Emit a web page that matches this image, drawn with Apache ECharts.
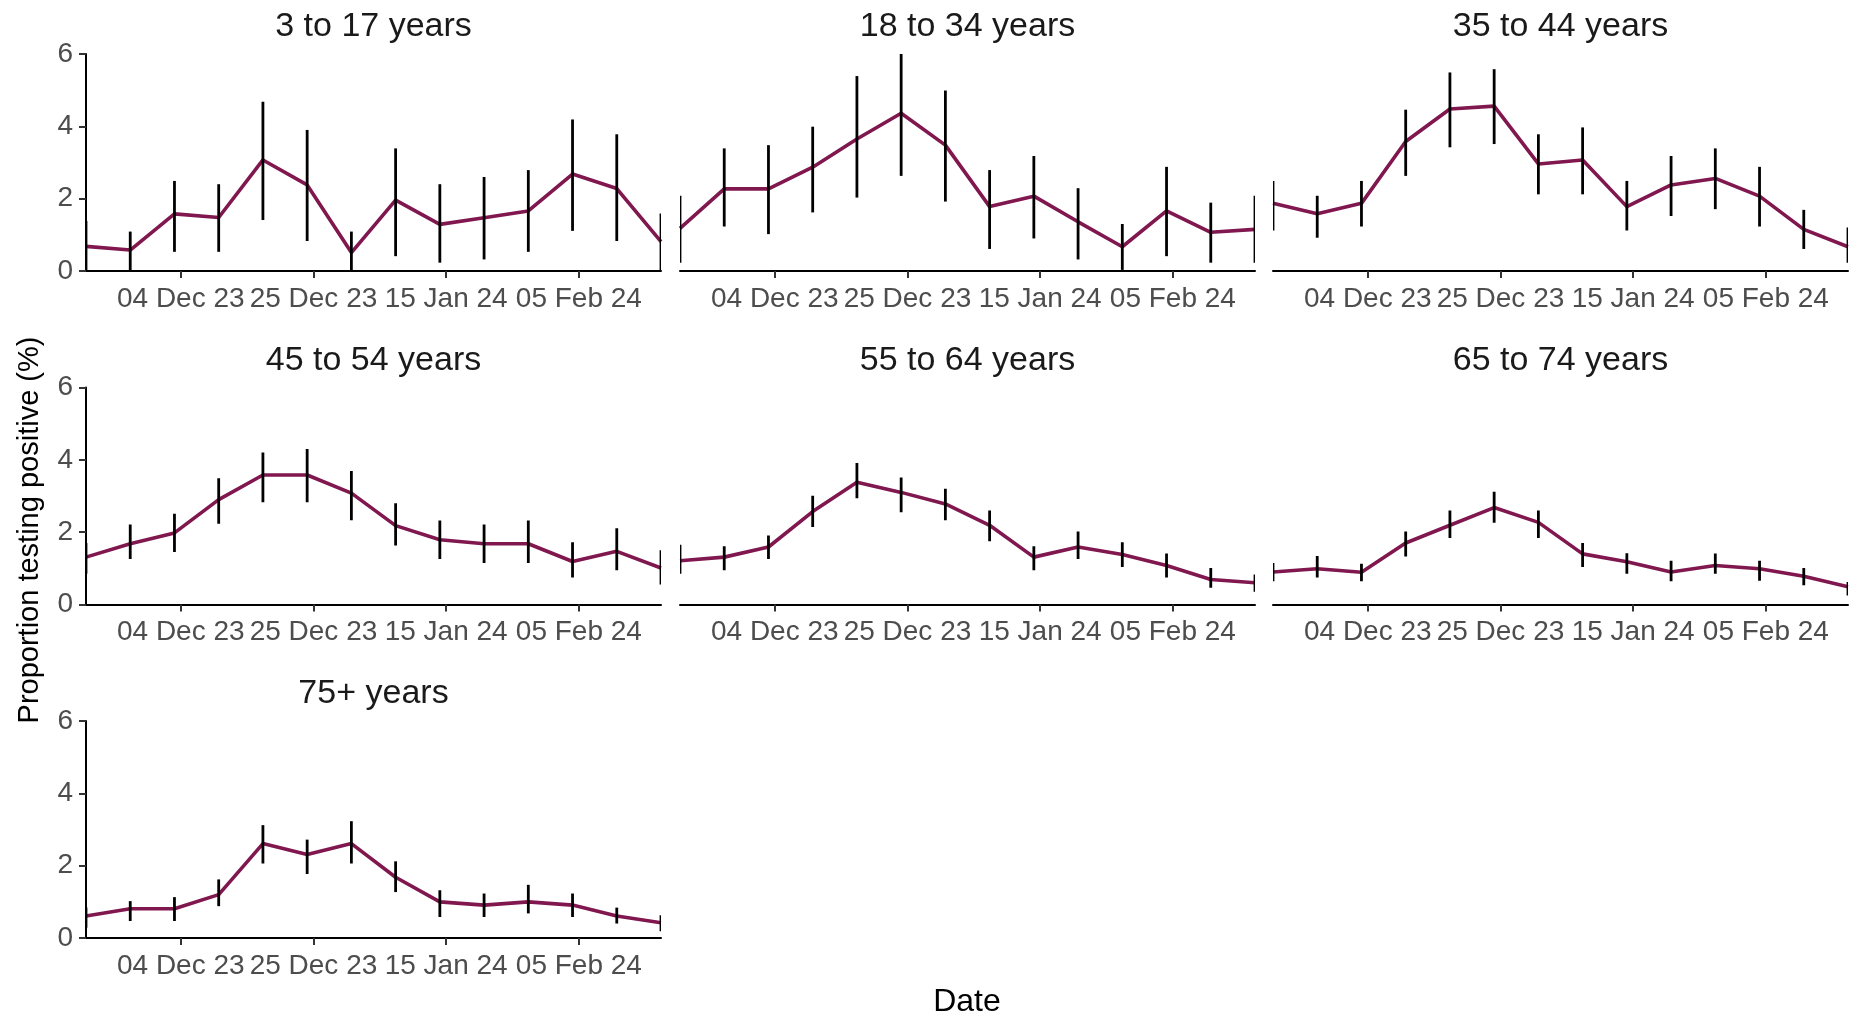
<!DOCTYPE html>
<html>
<head>
<meta charset="utf-8">
<script src="https://cdn.jsdelivr.net/npm/echarts@6/dist/echarts.min.js"></script>
<style>
  html, body { margin: 0; padding: 0; background: #fff; }
  #chart { width: 1865px; height: 1024px; }
</style>
</head>
<body>
<div id="chart"></div>
<script>
// Weekly survey dates (one estimate per week)
const dates = ['2023-11-19', '2023-11-26', '2023-12-03', '2023-12-10', '2023-12-17', '2023-12-24', '2023-12-31',
               '2024-01-07', '2024-01-14', '2024-01-21', '2024-01-28', '2024-02-04', '2024-02-11', '2024-02-18'];
const tickDates = ['2023-12-04', '2023-12-25', '2024-01-15', '2024-02-05'];
const yTicks = [0, 2, 4, 6];

const panelTitles = ['3 to 17 years', '18 to 34 years', '35 to 44 years', '45 to 54 years',
                     '55 to 64 years', '65 to 74 years', '75+ years'];

// Proportion testing positive (%) with lower / upper 95% interval, per age group
const est3to17  = [0.68, 0.58, 1.58, 1.48, 3.07, 2.38, 0.51, 1.96, 1.29, 1.47, 1.66, 2.68, 2.28, 0.81];
const low3to17  = [0.00, 0.00, 0.53, 0.53, 1.41, 0.83, 0.00, 0.41, 0.23, 0.32, 0.53, 1.11, 0.83, 0.00];
const high3to17 = [1.38, 1.09, 2.49, 2.40, 4.68, 3.90, 1.09, 3.39, 2.40, 2.60, 2.79, 4.19, 3.78, 1.59];

const est18to34  = [1.18, 2.27, 2.27, 2.87, 3.65, 4.36, 3.48, 1.78, 2.07, 1.36, 0.67, 1.66, 1.07, 1.15];
const low18to34  = [0.23, 1.23, 1.02, 1.62, 2.03, 2.63, 1.92, 0.61, 0.90, 0.32, 0.03, 0.41, 0.23, 0.23];
const high18to34 = [2.08, 3.39, 3.48, 3.99, 5.39, 6.10, 4.99, 2.79, 3.18, 2.29, 1.30, 2.88, 1.89, 2.08];

const est35to44  = [1.87, 1.58, 1.87, 3.58, 4.48, 4.56, 2.96, 3.07, 1.78, 2.38, 2.56, 2.07, 1.15, 0.67];
const low35to44  = [1.12, 0.92, 1.23, 2.63, 3.42, 3.51, 2.12, 2.12, 1.12, 1.52, 1.71, 1.23, 0.61, 0.23];
const high35to44 = [2.49, 2.08, 2.49, 4.46, 5.49, 5.58, 3.78, 3.97, 2.49, 3.18, 3.39, 2.88, 1.69, 1.20];

const est45to54  = [1.31, 1.68, 1.98, 2.90, 3.58, 3.58, 3.08, 2.18, 1.79, 1.68, 1.68, 1.19, 1.47, 1.01];
const low45to54  = [0.85, 1.26, 1.45, 2.23, 2.83, 2.83, 2.33, 1.63, 1.26, 1.15, 1.15, 0.75, 0.95, 0.55];
const high45to54 = [1.70, 2.21, 2.51, 3.49, 4.20, 4.30, 3.69, 2.80, 2.32, 2.21, 2.32, 1.72, 2.11, 1.50];

const est55to64  = [1.21, 1.31, 1.59, 2.57, 3.38, 3.10, 2.78, 2.19, 1.31, 1.59, 1.38, 1.08, 0.69, 0.60];
const low55to64  = [0.85, 0.95, 1.26, 2.14, 2.94, 2.55, 2.33, 1.75, 0.95, 1.26, 1.04, 0.75, 0.46, 0.35];
const high55to64 = [1.65, 1.61, 1.91, 3.01, 3.91, 3.51, 3.20, 2.60, 1.61, 2.02, 1.72, 1.41, 1.01, 0.83];

const est65to74  = [0.90, 0.99, 0.89, 1.70, 2.19, 2.68, 2.27, 1.40, 1.18, 0.90, 1.08, 0.99, 0.78, 0.49];
const low65to74  = [0.64, 0.75, 0.64, 1.33, 1.84, 2.26, 1.84, 1.04, 0.85, 0.64, 0.85, 0.66, 0.53, 0.25];
const high65to74 = [1.15, 1.34, 1.13, 2.02, 2.60, 3.12, 2.60, 1.70, 1.42, 1.21, 1.41, 1.21, 1.01, 0.62];

const est75plus  = [0.61, 0.81, 0.81, 1.20, 2.61, 2.31, 2.61, 1.68, 1.00, 0.91, 1.00, 0.91, 0.61, 0.42];
const low75plus  = [0.28, 0.47, 0.47, 0.88, 2.06, 1.77, 2.06, 1.27, 0.58, 0.58, 0.68, 0.58, 0.40, 0.19];
const high75plus = [0.84, 1.02, 1.13, 1.62, 3.12, 2.72, 3.23, 2.12, 1.32, 1.23, 1.47, 1.23, 0.84, 0.63];

const estimates = [est3to17, est18to34, est35to44, est45to54, est55to64, est65to74, est75plus];
const lowers    = [low3to17, low18to34, low35to44, low45to54, low55to64, low65to74, low75plus];
const uppers    = [high3to17, high18to34, high35to44, high45to54, high55to64, high65to74, high75plus];

// ---- layout ----
const FONT = '"Liberation Sans", Arial, sans-serif';
const LINE_COLOR = '#80184f';
const colLeft = [86, 680, 1273];
const plotW = 575;
const rowTop = [54, 387.5, 721];
const plotH = 217;

const toMs = s => Date.parse(s + 'T00:00:00Z');
const xs = dates.map(toMs);
const tickMs = tickDates.map(toMs);
const MONTHS = ['Jan','Feb','Mar','Apr','May','Jun','Jul','Aug','Sep','Oct','Nov','Dec'];
function fmtDate(v) {
  const d = new Date(v);
  const dd = String(d.getUTCDate()).padStart(2, '0');
  const yy = String(d.getUTCFullYear()).slice(2);
  return dd + ' ' + MONTHS[d.getUTCMonth()] + ' ' + yy;
}

const grids = [], xAxes = [], yAxes = [], series = [], titles = [];

panelTitles.forEach((name, i) => {
  const col = i % 3, row = Math.floor(i / 3);
  const left = colLeft[col], top = rowTop[row];
  grids.push({ left: left, top: top, width: plotW, height: plotH, containLabel: false });

  xAxes.push({
    type: 'value', gridIndex: i,
    min: xs[0], max: xs[xs.length - 1],
    axisLine: { show: true, lineStyle: { color: '#000', width: 2 } },
    axisTick: { show: true, customValues: tickMs, length: 7, lineStyle: { color: '#333', width: 2 } },
    axisLabel: { show: true, customValues: tickMs, formatter: fmtDate, color: '#4d4d4d',
                 fontSize: 28, fontFamily: FONT, margin: 14 },
    splitLine: { show: false }
  });

  const firstCol = col === 0;
  yAxes.push({
    type: 'value', gridIndex: i, min: 0, max: 6, interval: 2,
    axisLine: { show: firstCol, lineStyle: { color: '#000', width: 2 } },
    axisTick: { show: firstCol, length: 7, lineStyle: { color: '#333', width: 2 } },
    axisLabel: { show: firstCol, color: '#4d4d4d', fontSize: 28, fontFamily: FONT, margin: 13 },
    splitLine: { show: false }
  });

  series.push({
    type: 'line', xAxisIndex: i, yAxisIndex: i,
    data: xs.map((x, k) => [x, estimates[i][k]]),
    showSymbol: false, symbol: 'none',
    lineStyle: { color: LINE_COLOR, width: 3.6 },
    z: 2, clip: true
  });

  series.push({
    type: 'custom', xAxisIndex: i, yAxisIndex: i,
    data: xs.map((x, k) => [x, lowers[i][k], uppers[i][k]]),
    encode: { x: 0, y: [1, 2] },
    clip: true, z: 3,
    renderItem: function (params, api) {
      const x = api.value(0);
      const p1 = api.coord([x, api.value(1)]);
      const p2 = api.coord([x, api.value(2)]);
      return {
        type: 'line',
        shape: { x1: p1[0], y1: p1[1], x2: p2[0], y2: p2[1] },
        style: { stroke: '#000', lineWidth: 2.8 }
      };
    }
  });

  titles.push({
    text: name,
    left: left + plotW / 2, top: top - 44,
    textAlign: 'center', padding: 0,
    textStyle: { fontFamily: FONT, fontSize: 34, fontWeight: 'normal', color: '#1a1a1a' }
  });
});

const chart = echarts.init(document.getElementById('chart'), null, { renderer: 'canvas' });
chart.setOption({
  animation: false,
  backgroundColor: '#fff',
  title: titles,
  grid: grids,
  xAxis: xAxes,
  yAxis: yAxes,
  series: series,
  graphic: [
    {
      type: 'text', x: 967, y: 1002,
      style: { text: 'Date', font: '32px ' + FONT, fill: '#000', textAlign: 'center', textVerticalAlign: 'middle' }
    },
    {
      type: 'text', x: 30, y: 530, rotation: Math.PI / 2,
      style: { text: 'Proportion testing positive (%)', font: '29px ' + FONT, fill: '#000',
               textAlign: 'center', textVerticalAlign: 'middle' }
    }
  ]
});
</script>
</body>
</html>
